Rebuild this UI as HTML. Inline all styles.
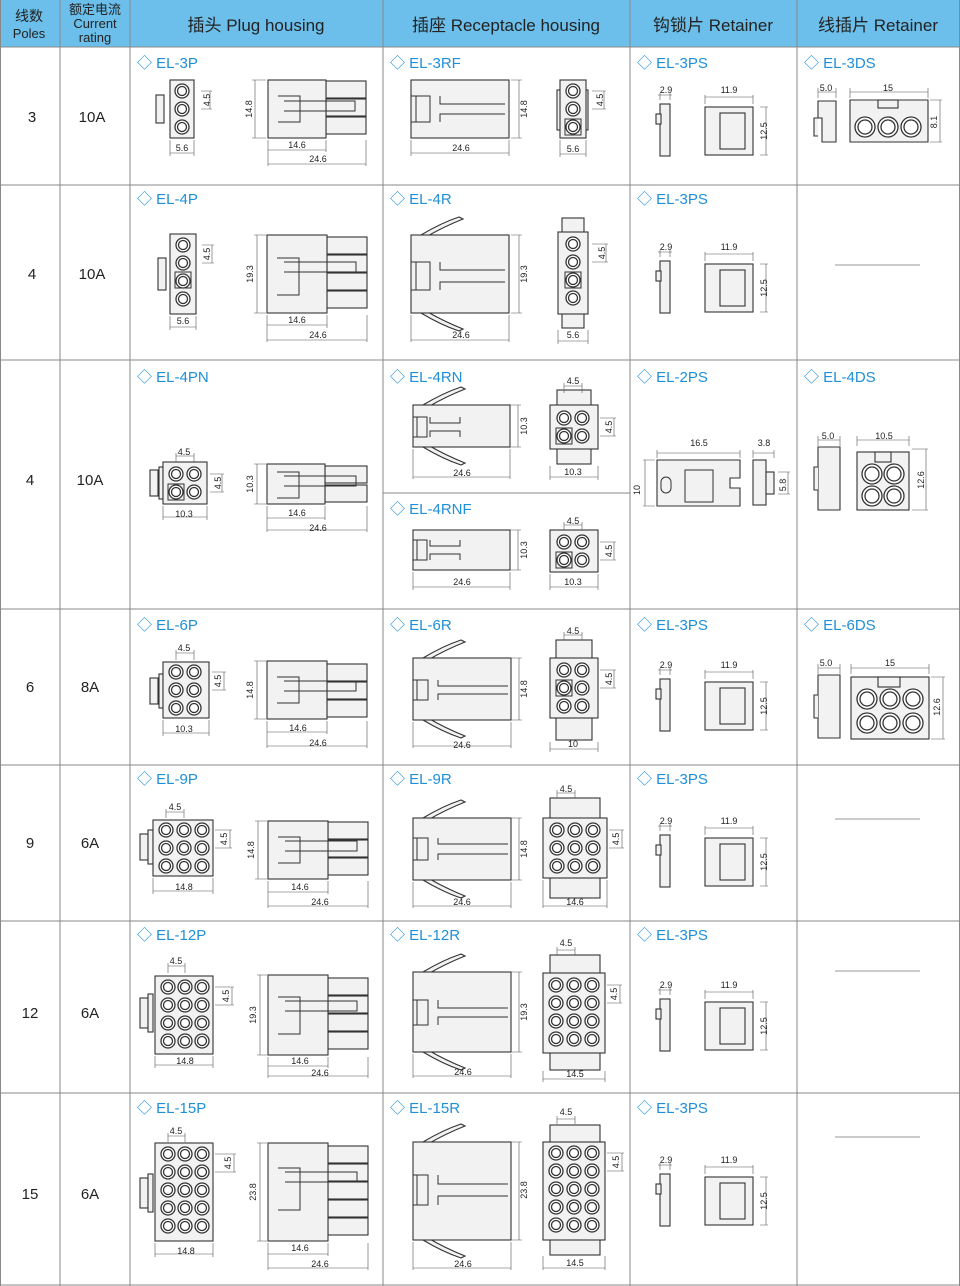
<!DOCTYPE html>
<html><head><meta charset="utf-8"><style>
body{margin:0;background:#fff}
svg{display:block;font-family:"Liberation Sans","Noto Sans CJK SC",sans-serif}
.s{fill:#f2f2f2;stroke:#333;stroke-width:1.1}
.l{fill:none;stroke:#333;stroke-width:1}
.o{fill:#fff;stroke:#333;stroke-width:1.3}
.d{fill:none;stroke:#555;stroke-width:.6}
.t{font-size:9px;fill:#222;text-anchor:middle}
.b{font-size:15px;fill:#1f8fd8}
.g{stroke:#888;stroke-width:1;fill:none}
.c{font-size:15px;fill:#222;text-anchor:middle}
</style></head><body>
<svg width="960" height="1286" viewBox="0 0 960 1286">
<defs>
<g id="pin"><circle r="7" class="o"/><circle r="4.5" class="o"/></g>
<g id="ps">
<rect x="660" y="104" width="10" height="52" class="s"/><rect x="656" y="114" width="5" height="10" class="s"/>
<rect x="705" y="107" width="48" height="48" class="s"/><rect x="720" y="113" width="25" height="36" class="s"/>
<path d="M660 93V100M670 93V100M658 95H672M705 95V104M753 95V104M705 97H753M760 107H768M760 155H768M766 107V155" class="d"/>
<text x="666" y="93" class="t">2.9</text><text x="729" y="93" class="t">11.9</text>
<text x="0" y="0" class="t" transform="translate(767,131) rotate(-90)">12.5</text>
</g>
<g id="wing"><path d="M0 5 L10 0 Q30 -12 48 -18 L52 -16 Q32 -8 15 2 L10 5" class="s"/></g>
</defs>
<!-- header -->
<rect x="0" y="0" width="960" height="47" fill="#6cbfea"/>
<g font-size="17" fill="#222" text-anchor="middle">
<text x="29" y="21" font-size="14">线数</text><text x="29" y="38" font-size="13">Poles</text>
<text x="95" y="14" font-size="13">额定电流</text><text x="95" y="28" font-size="13">Current</text><text x="95" y="42" font-size="13">rating</text>
<text x="256" y="31">插头 Plug housing</text>
<text x="506" y="31">插座 Receptacle housing</text>
<text x="713" y="31">钩锁片 Retainer</text>
<text x="878" y="31">线插片 Retainer</text>
</g>
<!-- grid -->
<g class="g">
<path d="M60 0V1286M130 0V1286M383 0V1286M630 0V1286M797 0V1286M0.5 0V1286M959.5 0V1286"/>
<path d="M0 47H960M0 185H960M0 360H960M0 609H960M0 765H960M0 921H960M0 1093H960M0 1285H960M383 493H630"/>
</g>
<path d="M835 265H920M835 819H920M835 971H920M835 1137H920" stroke="#999" stroke-width="1"/>
<!-- poles / rating -->
<g class="c">
<text x="32" y="122">3</text><text x="92" y="122">10A</text>
<text x="32" y="279">4</text><text x="92" y="279">10A</text>
<text x="30" y="485">4</text><text x="90" y="485">10A</text>
<text x="30" y="692">6</text><text x="90" y="692">8A</text>
<text x="30" y="848">9</text><text x="90" y="848">6A</text>
<text x="30" y="1018">12</text><text x="90" y="1018">6A</text>
<text x="30" y="1199">15</text><text x="90" y="1199">6A</text>
</g>
<!-- labels -->
<g class="b">
<text x="137" y="68">◇ EL-3P</text><text x="390" y="68">◇ EL-3RF</text><text x="637" y="68">◇ EL-3PS</text><text x="804" y="68">◇ EL-3DS</text>
<text x="137" y="204">◇ EL-4P</text><text x="390" y="204">◇ EL-4R</text><text x="637" y="204">◇ EL-3PS</text>
<text x="137" y="382">◇ EL-4PN</text><text x="390" y="382">◇ EL-4RN</text><text x="637" y="382">◇ EL-2PS</text><text x="804" y="382">◇ EL-4DS</text>
<text x="390" y="514">◇ EL-4RNF</text>
<text x="137" y="630">◇ EL-6P</text><text x="390" y="630">◇ EL-6R</text><text x="637" y="630">◇ EL-3PS</text><text x="804" y="630">◇ EL-6DS</text>
<text x="137" y="784">◇ EL-9P</text><text x="390" y="784">◇ EL-9R</text><text x="637" y="784">◇ EL-3PS</text>
<text x="137" y="940">◇ EL-12P</text><text x="390" y="940">◇ EL-12R</text><text x="637" y="940">◇ EL-3PS</text>
<text x="137" y="1113">◇ EL-15P</text><text x="390" y="1113">◇ EL-15R</text><text x="637" y="1113">◇ EL-3PS</text>
</g>
<!-- retainers -->
<use href="#ps"/><use href="#ps" transform="translate(0,157)"/><use href="#ps" transform="translate(0,575)"/>
<use href="#ps" transform="translate(0,731)"/><use href="#ps" transform="translate(0,895)"/><use href="#ps" transform="translate(0,1070)"/>

<!-- ROW 1 -->
<rect x="156" y="95" width="8" height="28" class="s"/><rect x="170" y="80" width="24" height="58" class="s"/>
<use href="#pin" x="182" y="91"/><use href="#pin" x="182" y="109"/><use href="#pin" x="182" y="127"/>
<path d="M201 91H212M201 109H212M210 91V109M170 140V156M194 140V156M170 153H194" class="d"/>
<text class="t" transform="translate(210,100) rotate(-90)">4.5</text><text x="182" y="151" class="t">5.6</text>
<rect x="326" y="81" width="40" height="17" class="s"/><rect x="326" y="99" width="40" height="17" class="s"/><rect x="326" y="117" width="40" height="17" class="s"/>
<rect x="268" y="80" width="58" height="58" class="s"/><path d="M278 96H300V122H278M284 101H355V111H284" class="l"/>
<path d="M255 80V138M252 80H266M252 138H266M268 140V166M326 140V152M366 140V166M268 150H326M268 164H366" class="d"/>
<text class="t" transform="translate(252,109) rotate(-90)">14.8</text><text x="297" y="148" class="t">14.6</text><text x="318" y="162" class="t">24.6</text>
<rect x="411" y="80" width="98" height="58" class="s"/><path d="M411 96H430V122H411M440 96V104H505M440 122V114H505M416 96V122" class="l"/>
<path d="M519 80V138M511 80H522M511 138H522M411 140V156M509 140V156M411 153H509" class="d"/>
<text class="t" transform="translate(527,109) rotate(-90)">14.8</text><text x="461" y="151" class="t">24.6</text>
<rect x="557" y="90" width="4" height="40" class="s"/><rect x="584" y="90" width="4" height="40" class="s"/><rect x="560" y="80" width="26" height="58" class="s"/>
<use href="#pin" x="573" y="91"/><use href="#pin" x="573" y="109"/><rect x="565" y="119" width="16" height="16" class="l"/><use href="#pin" x="573" y="127"/>
<path d="M592 91H606M592 109H606M604 91V109M560 140V157M586 140V157M560 154H586" class="d"/>
<text class="t" transform="translate(603,100) rotate(-90)">4.5</text><text x="573" y="152" class="t">5.6</text>
<path d="M818 101H836V142H822V118H818Z" class="s"/><path d="M818 118h-4v18h4" class="s"/>
<path d="M850 100H928V142H850Z" class="s"/><rect x="878" y="100" width="20" height="8" class="s"/>
<circle cx="865" cy="127" r="10" class="o"/><circle cx="865" cy="127" r="7" class="o"/><circle cx="888" cy="127" r="10" class="o"/><circle cx="888" cy="127" r="7" class="o"/><circle cx="911" cy="127" r="10" class="o"/><circle cx="911" cy="127" r="7" class="o"/>
<path d="M818 88V98M836 88V98M818 92H836M850 88V98M928 88V98M850 92H928M930 100H942M930 142H942M940 100V142" class="d"/>
<text x="826" y="91" class="t">5.0</text><text x="888" y="91" class="t">15</text><text class="t" transform="translate(937,122) rotate(-90)">8.1</text>

<!-- ROW 2 -->
<rect x="158" y="258" width="8" height="32" class="s"/><rect x="170" y="234" width="26" height="80" class="s"/>
<use href="#pin" x="183" y="245"/><use href="#pin" x="183" y="263"/><rect x="175" y="272" width="16" height="16" class="l"/><use href="#pin" x="183" y="281"/><use href="#pin" x="183" y="299"/>
<path d="M202 245H214M202 263H214M212 245V263M170 316V330M196 316V330M170 327H196" class="d"/>
<text class="t" transform="translate(210,254) rotate(-90)">4.5</text><text x="183" y="324" class="t">5.6</text>
<rect x="327" y="237" width="40" height="17" class="s"/><rect x="327" y="255" width="40" height="17" class="s"/><rect x="327" y="273" width="40" height="17" class="s"/><rect x="327" y="291" width="40" height="17" class="s"/>
<rect x="267" y="235" width="60" height="78" class="s"/><path d="M277 258H299V295H277M284 262H356V272H284" class="l"/>
<path d="M257 235V313M254 235H266M254 313H266M267 315V342M327 315V328M367 315V342M267 325H327M267 340H367" class="d"/>
<text class="t" transform="translate(253,274) rotate(-90)">19.3</text><text x="297" y="323" class="t">14.6</text><text x="318" y="338" class="t">24.6</text>
<use href="#wing" transform="translate(411,235)"/><use href="#wing" transform="translate(411,313) scale(1,-1)"/>
<rect x="411" y="235" width="98" height="78" class="s"/><path d="M411 262H430V290H411M440 262V270H505M440 290V282H505M416 262V290" class="l"/>
<path d="M519 235V313M511 235H522M511 313H522M411 315V342M509 315V342M411 340H509" class="d"/>
<text class="t" transform="translate(527,274) rotate(-90)">19.3</text><text x="461" y="338" class="t">24.6</text>
<rect x="562" y="218" width="22" height="110" class="s"/><rect x="558" y="232" width="30" height="82" class="s"/>
<use href="#pin" x="573" y="244"/><use href="#pin" x="573" y="262"/><rect x="565" y="272" width="16" height="16" class="l"/><use href="#pin" x="573" y="280"/><use href="#pin" x="573" y="298"/>
<path d="M592 244H608M592 262H608M606 244V262M558 330V344M588 330V344M558 341H588" class="d"/>
<text class="t" transform="translate(605,253) rotate(-90)">4.5</text><text x="573" y="338" class="t">5.6</text>

<!-- ROW 3 -->
<rect x="150" y="470" width="8" height="26" class="s"/><rect x="159" y="467" width="4" height="32" class="s"/><rect x="163" y="462" width="44" height="42" class="s"/>
<use href="#pin" x="176" y="474"/><use href="#pin" x="194" y="474"/><rect x="168" y="484" width="16" height="16" class="l"/><use href="#pin" x="176" y="492"/><use href="#pin" x="194" y="492"/>
<path d="M176 453V462M194 453V462M176 456H194M210 474H224M210 492H224M222 474V492M163 506V520M207 506V520M163 517H207" class="d"/>
<text x="184" y="455" class="t">4.5</text><text class="t" transform="translate(221,483) rotate(-90)">4.5</text><text x="184" y="517" class="t">10.3</text>
<rect x="325" y="466" width="42" height="17" class="s"/><rect x="325" y="485" width="42" height="17" class="s"/>
<rect x="267" y="464" width="58" height="40" class="s"/><path d="M277 472H299V498H277M284 476H356V486H284" class="l"/>
<path d="M257 464V504M254 464H266M254 504H266M267 506V532M325 506V520M367 506V532M267 518H325M267 530H367" class="d"/>
<text class="t" transform="translate(253,484) rotate(-90)">10.3</text><text x="297" y="516" class="t">14.6</text><text x="318" y="531" class="t">24.6</text>
<use href="#wing" transform="translate(413,405)"/><use href="#wing" transform="translate(413,447) scale(1,-1)"/>
<rect x="413" y="405" width="97" height="42" class="s"/><path d="M413 417H427V437H413M430 417V423H460V417M430 437V431H460V437M417 417V437" class="l"/>
<path d="M518 405V447M510 405H521M510 447H521M413 449V479M510 449V479M413 477H510" class="d"/>
<text class="t" transform="translate(527,426) rotate(-90)">10.3</text><text x="462" y="476" class="t">24.6</text>
<rect x="557" y="390" width="34" height="74" class="s"/><rect x="550" y="405" width="48" height="44" class="s"/>
<use href="#pin" x="564" y="418"/><use href="#pin" x="582" y="418"/><rect x="556" y="428" width="16" height="16" class="l"/><use href="#pin" x="564" y="436"/><use href="#pin" x="582" y="436"/>
<path d="M564 383V393M582 383V393M564 386H582M600 418H616M600 436H616M614 418V436M550 466V480M598 466V480M550 477H598" class="d"/>
<text x="573" y="384" class="t">4.5</text><text class="t" transform="translate(612,427) rotate(-90)">4.5</text><text x="573" y="475" class="t">10.3</text>
<rect x="413" y="530" width="97" height="40" class="s"/><path d="M413 540H427V560H413M430 540V546H460V540M430 560V554H460V560M417 540V560" class="l"/>
<path d="M518 530V570M510 530H521M510 570H521M413 572V590M510 572V590M413 587H510" class="d"/>
<text class="t" transform="translate(527,550) rotate(-90)">10.3</text><text x="462" y="585" class="t">24.6</text>
<rect x="550" y="530" width="48" height="42" class="s"/>
<use href="#pin" x="564" y="542"/><use href="#pin" x="582" y="542"/><rect x="556" y="552" width="16" height="16" class="l"/><use href="#pin" x="564" y="560"/><use href="#pin" x="582" y="560"/>
<path d="M564 522V530M582 522V530M564 525H582M600 542H616M600 560H616M614 542V560M550 574V590M598 574V590M550 587H598" class="d"/>
<text x="573" y="524" class="t">4.5</text><text class="t" transform="translate(612,551) rotate(-90)">4.5</text><text x="573" y="585" class="t">10.3</text>
<path d="M657 460H740V478H730V488H740V506H657Z" class="s"/><rect x="661" y="477" width="10" height="16" rx="5" class="l"/><rect x="685" y="470" width="28" height="32" class="l"/>
<rect x="753" y="460" width="13" height="45" class="s"/><rect x="766" y="472" width="8" height="22" class="s"/>
<path d="M657 450V458M740 450V458M657 453H740M753 450V458M774 450V458M753 453H774M645 460V506M643 460H655M643 506H655M778 472H790M778 494H790M788 472V494" class="d"/>
<text x="699" y="446" class="t">16.5</text><text x="764" y="446" class="t">3.8</text><text class="t" transform="translate(640,490) rotate(-90)">10</text><text class="t" transform="translate(786,485) rotate(-90)">5.8</text>
<path d="M818 447H840V510H818Z" class="s"/><path d="M818 467H814V490H818" class="s"/>
<rect x="857" y="452" width="52" height="58" class="s"/><rect x="875" y="452" width="16" height="10" class="s"/>
<circle cx="872" cy="474" r="10" class="o"/><circle cx="872" cy="474" r="7" class="o"/><circle cx="894" cy="474" r="10" class="o"/><circle cx="894" cy="474" r="7" class="o"/>
<circle cx="872" cy="496" r="10" class="o"/><circle cx="872" cy="496" r="7" class="o"/><circle cx="894" cy="496" r="10" class="o"/><circle cx="894" cy="496" r="7" class="o"/>
<path d="M818 436V446M840 436V446M818 440H840M857 436V446M909 436V446M857 440H909M912 449H928M912 510H928M926 449V510" class="d"/>
<text x="828" y="439" class="t">5.0</text><text x="884" y="439" class="t">10.5</text><text class="t" transform="translate(924,480) rotate(-90)">12.6</text>

<!-- ROW 4 -->
<rect x="150" y="678" width="8" height="26" class="s"/><rect x="159" y="674" width="4" height="34" class="s"/><rect x="163" y="662" width="46" height="56" class="s"/>
<use href="#pin" x="176" y="672"/><use href="#pin" x="194" y="672"/><use href="#pin" x="176" y="690"/><use href="#pin" x="194" y="690"/><use href="#pin" x="176" y="708"/><use href="#pin" x="194" y="708"/>
<path d="M176 650V660M194 650V660M176 653H194M212 672H226M212 690H226M224 672V690M163 720V736M209 720V736M163 733H209" class="d"/>
<text x="184" y="651" class="t">4.5</text><text class="t" transform="translate(221,681) rotate(-90)">4.5</text><text x="184" y="732" class="t">10.3</text>
<rect x="327" y="664" width="40" height="17" class="s"/><rect x="327" y="682" width="40" height="17" class="s"/><rect x="327" y="700" width="40" height="17" class="s"/>
<rect x="267" y="661" width="60" height="58" class="s"/><path d="M277 677H299V703H277M284 681H356V691H284" class="l"/>
<path d="M257 661V719M254 661H266M254 719H266M267 721V748M327 721V734M367 721V748M267 732H327M267 746H367" class="d"/>
<text class="t" transform="translate(253,690) rotate(-90)">14.8</text><text x="298" y="731" class="t">14.6</text><text x="318" y="746" class="t">24.6</text>
<use href="#wing" transform="translate(413,658)"/><use href="#wing" transform="translate(413,720) scale(1,-1)"/>
<rect x="413" y="658" width="98" height="62" class="s"/><path d="M413 680H428V700H413M438 680V686H508M438 700V694H508M417 680V700" class="l"/>
<path d="M519 658V720M511 658H522M511 720H522M413 722V748M511 722V748M413 746H511" class="d"/>
<text class="t" transform="translate(527,689) rotate(-90)">14.8</text><text x="462" y="748" class="t">24.6</text>
<rect x="556" y="640" width="36" height="100" class="s"/><rect x="550" y="658" width="48" height="60" class="s"/>
<use href="#pin" x="564" y="670"/><use href="#pin" x="582" y="670"/><rect x="556" y="680" width="16" height="16" class="l"/><use href="#pin" x="564" y="688"/><use href="#pin" x="582" y="688"/><use href="#pin" x="564" y="706"/><use href="#pin" x="582" y="706"/>
<path d="M564 632V640M582 632V640M564 635H582M600 670H616M600 688H616M614 670V688M550 742V752M598 742V752M550 749H598" class="d"/>
<text x="573" y="634" class="t">4.5</text><text class="t" transform="translate(612,679) rotate(-90)">4.5</text><text x="573" y="747" class="t">10</text>
<path d="M818 675H840V738H818Z" class="s"/><path d="M818 695H814V718H818" class="s"/>
<rect x="851" y="677" width="78" height="62" class="s"/><rect x="878" y="677" width="22" height="10" class="s"/>
<g><circle cx="867" cy="699" r="10" class="o"/><circle cx="867" cy="699" r="7" class="o"/><circle cx="890" cy="699" r="10" class="o"/><circle cx="890" cy="699" r="7" class="o"/><circle cx="913" cy="699" r="10" class="o"/><circle cx="913" cy="699" r="7" class="o"/>
<circle cx="867" cy="723" r="10" class="o"/><circle cx="867" cy="723" r="7" class="o"/><circle cx="890" cy="723" r="10" class="o"/><circle cx="890" cy="723" r="7" class="o"/><circle cx="913" cy="723" r="10" class="o"/><circle cx="913" cy="723" r="7" class="o"/></g>
<path d="M818 664V674M840 664V674M818 668H840M851 664V674M929 664V674M851 668H929M931 677H945M931 739H945M943 677V739" class="d"/>
<text x="826" y="666" class="t">5.0</text><text x="890" y="666" class="t">15</text><text class="t" transform="translate(940,707) rotate(-90)">12.6</text>

<!-- ROW 5 -->
<rect x="140" y="834" width="8" height="26" class="s"/><rect x="148" y="830" width="5" height="34" class="s"/><rect x="153" y="820" width="60" height="56" class="s"/>
<use href="#pin" x="166" y="830"/><use href="#pin" x="184" y="830"/><use href="#pin" x="202" y="830"/>
<use href="#pin" x="166" y="848"/><use href="#pin" x="184" y="848"/><use href="#pin" x="202" y="848"/>
<use href="#pin" x="166" y="866"/><use href="#pin" x="184" y="866"/><use href="#pin" x="202" y="866"/>
<path d="M166 809V818M184 809V818M166 812H184M215 830H232M215 848H232M230 830V848M153 878V894M213 878V894M153 891H213" class="d"/>
<text x="175" y="810" class="t">4.5</text><text class="t" transform="translate(227,839) rotate(-90)">4.5</text><text x="184" y="890" class="t">14.8</text>
<rect x="328" y="822" width="40" height="17" class="s"/><rect x="328" y="840" width="40" height="17" class="s"/><rect x="328" y="858" width="40" height="17" class="s"/>
<rect x="268" y="821" width="60" height="58" class="s"/><path d="M278 837H300V863H278M285 841H357V851H285" class="l"/>
<path d="M258 821V879M255 821H267M255 879H267M268 881V908M328 881V894M368 881V908M268 892H328M268 906H368" class="d"/>
<text class="t" transform="translate(254,850) rotate(-90)">14.8</text><text x="300" y="890" class="t">14.6</text><text x="320" y="905" class="t">24.6</text>
<use href="#wing" transform="translate(413,818)"/><use href="#wing" transform="translate(413,880) scale(1,-1)"/>
<rect x="413" y="818" width="98" height="62" class="s"/><path d="M413 838H428V860H413M438 838V844H508M438 860V854H508M417 838V860" class="l"/>
<path d="M519 818V880M511 818H522M511 880H522M413 882V908M511 882V908M413 906H511" class="d"/>
<text class="t" transform="translate(527,849) rotate(-90)">14.8</text><text x="462" y="905" class="t">24.6</text>
<rect x="550" y="798" width="50" height="100" class="s"/><rect x="543" y="818" width="64" height="60" class="s"/>
<use href="#pin" x="557" y="830"/><use href="#pin" x="575" y="830"/><use href="#pin" x="593" y="830"/>
<use href="#pin" x="557" y="848"/><use href="#pin" x="575" y="848"/><use href="#pin" x="593" y="848"/>
<use href="#pin" x="557" y="866"/><use href="#pin" x="575" y="866"/><use href="#pin" x="593" y="866"/>
<path d="M557 790V798M575 790V798M557 793H575M609 830H624M609 848H624M622 830V848M543 880V908M607 880V908M543 906H607" class="d"/>
<text x="566" y="792" class="t">4.5</text><text class="t" transform="translate(619,839) rotate(-90)">4.5</text><text x="575" y="905" class="t">14.6</text>

<!-- ROW 6 -->
<rect x="140" y="998" width="8" height="30" class="s"/><rect x="148" y="994" width="5" height="38" class="s"/><rect x="155" y="976" width="58" height="78" class="s"/>
<g>
<use href="#pin" x="168" y="987"/><use href="#pin" x="185" y="987"/><use href="#pin" x="202" y="987"/>
<use href="#pin" x="168" y="1005"/><use href="#pin" x="185" y="1005"/><use href="#pin" x="202" y="1005"/>
<use href="#pin" x="168" y="1023"/><use href="#pin" x="185" y="1023"/><use href="#pin" x="202" y="1023"/>
<use href="#pin" x="168" y="1041"/><use href="#pin" x="185" y="1041"/><use href="#pin" x="202" y="1041"/></g>
<path d="M168 963V973M185 963V973M168 966H185M215 987H234M215 1005H234M232 987V1005M155 1056V1068M213 1056V1068M155 1065H213" class="d"/>
<text x="176" y="964" class="t">4.5</text><text class="t" transform="translate(229,996) rotate(-90)">4.5</text><text x="185" y="1064" class="t">14.8</text>
<rect x="328" y="978" width="40" height="17" class="s"/><rect x="328" y="996" width="40" height="17" class="s"/><rect x="328" y="1014" width="40" height="17" class="s"/><rect x="328" y="1032" width="40" height="17" class="s"/>
<rect x="268" y="975" width="60" height="80" class="s"/><path d="M278 997H300V1034H278M285 1001H357V1011H285" class="l"/>
<path d="M260 975V1055M257 975H267M257 1055H267M268 1057V1078M328 1057V1068M368 1057V1078M268 1066H328M268 1076H368" class="d"/>
<text class="t" transform="translate(256,1015) rotate(-90)">19.3</text><text x="300" y="1064" class="t">14.6</text><text x="320" y="1076" class="t">24.6</text>
<use href="#wing" transform="translate(413,972)"/><use href="#wing" transform="translate(413,1052) scale(1,-1)"/>
<rect x="413" y="972" width="98" height="80" class="s"/><path d="M413 1000H428V1025H413M438 1000V1008H508M438 1025V1017H508M417 1000V1025" class="l"/>
<path d="M519 972V1052M511 972H522M511 1052H522M413 1054V1078M511 1054V1078M413 1076H511" class="d"/>
<text class="t" transform="translate(527,1012) rotate(-90)">19.3</text><text x="463" y="1075" class="t">24.6</text>
<rect x="550" y="955" width="50" height="115" class="s"/><rect x="543" y="973" width="62" height="80" class="s"/>
<g>
<use href="#pin" x="556" y="985"/><use href="#pin" x="574" y="985"/><use href="#pin" x="592" y="985"/>
<use href="#pin" x="556" y="1003"/><use href="#pin" x="574" y="1003"/><use href="#pin" x="592" y="1003"/>
<use href="#pin" x="556" y="1021"/><use href="#pin" x="574" y="1021"/><use href="#pin" x="592" y="1021"/>
<use href="#pin" x="556" y="1039"/><use href="#pin" x="574" y="1039"/><use href="#pin" x="592" y="1039"/></g>
<path d="M557 947V955M575 947V955M557 950H575M607 985H622M607 1003H622M620 985V1003M543 1071V1082M605 1071V1082M543 1079H605" class="d"/>
<text x="566" y="946" class="t">4.5</text><text class="t" transform="translate(617,994) rotate(-90)">4.5</text><text x="575" y="1077" class="t">14.5</text>

<!-- ROW 7 -->
<rect x="140" y="1178" width="8" height="30" class="s"/><rect x="148" y="1174" width="5" height="38" class="s"/><rect x="155" y="1143" width="58" height="98" class="s"/>
<g>
<use href="#pin" x="168" y="1154"/><use href="#pin" x="185" y="1154"/><use href="#pin" x="202" y="1154"/>
<use href="#pin" x="168" y="1172"/><use href="#pin" x="185" y="1172"/><use href="#pin" x="202" y="1172"/>
<use href="#pin" x="168" y="1190"/><use href="#pin" x="185" y="1190"/><use href="#pin" x="202" y="1190"/>
<use href="#pin" x="168" y="1208"/><use href="#pin" x="185" y="1208"/><use href="#pin" x="202" y="1208"/>
<use href="#pin" x="168" y="1226"/><use href="#pin" x="185" y="1226"/><use href="#pin" x="202" y="1226"/></g>
<path d="M168 1133V1142M185 1133V1142M168 1136H185M215 1154H236M215 1172H236M234 1154V1172M155 1243V1257M213 1243V1257M155 1254H213" class="d"/>
<text x="176" y="1134" class="t">4.5</text><text class="t" transform="translate(231,1163) rotate(-90)">4.5</text><text x="186" y="1254" class="t">14.8</text>
<rect x="328" y="1146" width="40" height="17" class="s"/><rect x="328" y="1164" width="40" height="17" class="s"/><rect x="328" y="1182" width="40" height="17" class="s"/><rect x="328" y="1200" width="40" height="17" class="s"/><rect x="328" y="1218" width="40" height="17" class="s"/>
<rect x="268" y="1143" width="60" height="98" class="s"/><path d="M278 1168H300V1210H278M285 1172H357V1182H285" class="l"/>
<path d="M260 1143V1241M257 1143H267M257 1241H267M268 1243V1270M328 1243V1256M368 1243V1270M268 1254H328M268 1268H368" class="d"/>
<text class="t" transform="translate(256,1192) rotate(-90)">23.8</text><text x="300" y="1251" class="t">14.6</text><text x="320" y="1267" class="t">24.6</text>
<use href="#wing" transform="translate(413,1142)"/><use href="#wing" transform="translate(413,1240) scale(1,-1)"/>
<rect x="413" y="1142" width="98" height="98" class="s"/><path d="M413 1175H428V1205H413M438 1175V1184H508M438 1205V1196H508M417 1175V1205" class="l"/>
<path d="M519 1142V1240M511 1142H522M511 1240H522M413 1242V1270M511 1242V1270M413 1268H511" class="d"/>
<text class="t" transform="translate(527,1190) rotate(-90)">23.8</text><text x="463" y="1267" class="t">24.6</text>
<rect x="550" y="1125" width="50" height="130" class="s"/><rect x="543" y="1142" width="62" height="98" class="s"/>
<g>
<use href="#pin" x="556" y="1153"/><use href="#pin" x="574" y="1153"/><use href="#pin" x="592" y="1153"/>
<use href="#pin" x="556" y="1171"/><use href="#pin" x="574" y="1171"/><use href="#pin" x="592" y="1171"/>
<use href="#pin" x="556" y="1189"/><use href="#pin" x="574" y="1189"/><use href="#pin" x="592" y="1189"/>
<use href="#pin" x="556" y="1207"/><use href="#pin" x="574" y="1207"/><use href="#pin" x="592" y="1207"/>
<use href="#pin" x="556" y="1225"/><use href="#pin" x="574" y="1225"/><use href="#pin" x="592" y="1225"/></g>
<path d="M557 1116V1124M575 1116V1124M557 1119H575M607 1153H624M607 1171H624M622 1153V1171M543 1256V1270M605 1256V1270M543 1268H605" class="d"/>
<text x="566" y="1115" class="t">4.5</text><text class="t" transform="translate(619,1162) rotate(-90)">4.5</text><text x="575" y="1266" class="t">14.5</text>
</svg>
</body></html>
